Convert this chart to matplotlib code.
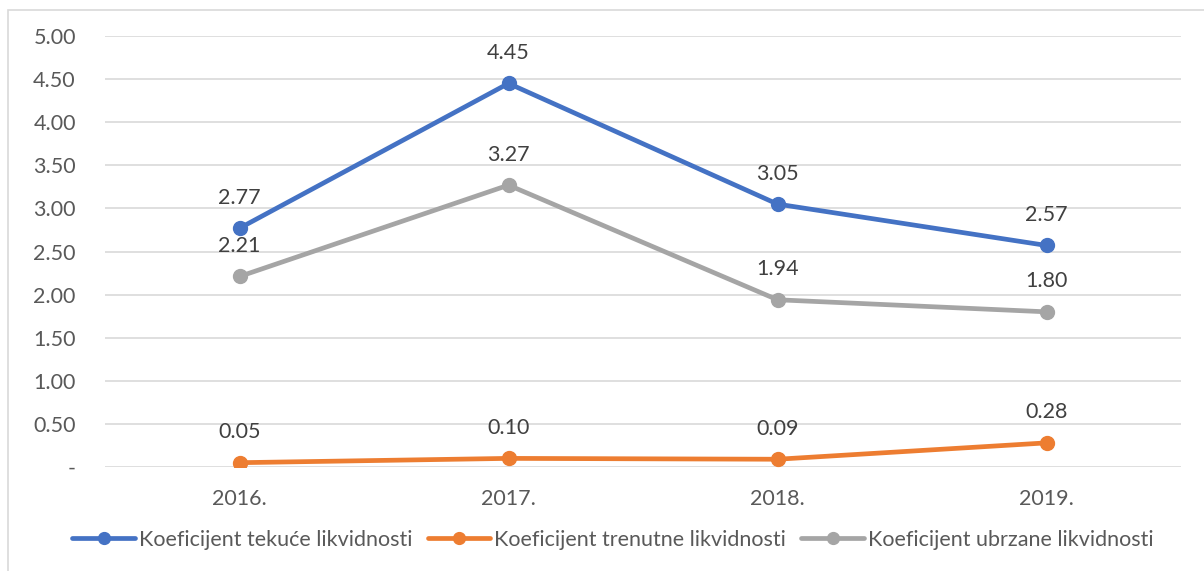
import matplotlib.pyplot as plt
from matplotlib.patches import Rectangle

years = ["2016.", "2017.", "2018.", "2019."]
tekuce = [2.77, 4.45, 3.05, 2.57]
trenutne = [0.05, 0.10, 0.09, 0.28]
ubrzane = [2.21, 3.27, 1.94, 1.80]

series = [
    ("Koeficijent tekuće likvidnosti", tekuce, "#4472C4"),
    ("Koeficijent trenutne likvidnosti", trenutne, "#ED7D31"),
    ("Koeficijent ubrzane likvidnosti", ubrzane, "#A5A5A5"),
]

plt.rcParams["font.family"] = ["Lato", "DejaVu Sans"]
text_col = "#595959"
fs = 15.5

W, H = 1204, 571
fig = plt.figure(figsize=(W / 100, H / 100), dpi=100)
ax = fig.add_axes([105 / W, 1 - 467 / H, (1181 - 105) / W, (467 - 36) / H])

fig.patches.append(Rectangle((8 / W, -0.05), 1.1, 1 - 10 / H + 0.05,
                             transform=fig.transFigure, fill=False,
                             edgecolor="#D9D9D9", linewidth=1.2))

x = list(range(len(years)))
for name, vals, col in series:
    ax.plot(x, vals, color=col, lw=3.4, marker="o", ms=10, label=name,
            solid_capstyle="round", zorder=3)
    for xi, v in zip(x, vals):
        ax.annotate(f"{v:.2f}", (xi, v), xytext=(0, 22), textcoords="offset points",
                    ha="center", va="center", fontsize=fs, color="#404040")

ax.set_xlim(-0.5, 3.5)
ax.set_ylim(0, 5)
ticks = [i * 0.5 for i in range(11)]
ax.set_yticks(ticks)
ax.set_yticklabels(["-"] + [f"{t:.2f}" for t in ticks[1:]])
ax.set_xticks(x)
ax.set_xticklabels(years)
ax.grid(axis="y", color="#D9D9D9", lw=1.2)
ax.set_axisbelow(True)
for s in ax.spines.values():
    s.set_visible(False)
ax.tick_params(length=0, labelsize=fs, colors=text_col)
ax.tick_params(axis="y", pad=21)
ax.tick_params(axis="x", pad=16)

leg = fig.legend(loc="center", bbox_to_anchor=(613 / W, 1 - 540 / H), ncol=3,
                 frameon=False, fontsize=fs, handlelength=2.9, markerscale=0.85,
                 handletextpad=0.2, columnspacing=0.7)
for t in leg.get_texts():
    t.set_color(text_col)

fig.savefig("out.png", dpi=100)
